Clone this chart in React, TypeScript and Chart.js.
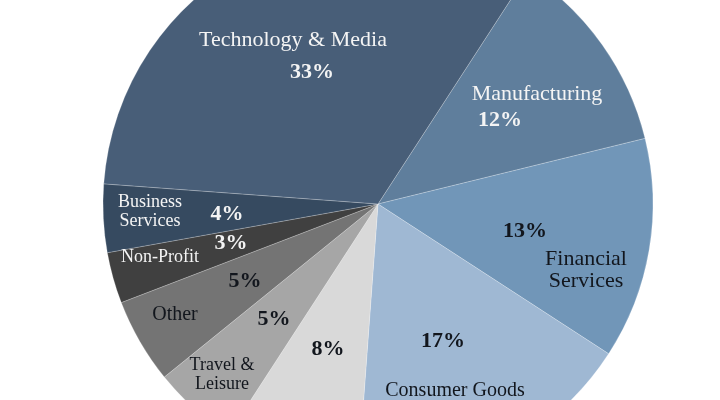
import { useEffect, useRef } from "react";
import { Chart, registerables } from "chart.js";

Chart.register(...registerables);

// ---- data ----
const categories = [
  "Manufacturing",
  "Financial Services",
  "Consumer Goods",
  "(label not visible)",
  "Travel & Leisure",
  "Other",
  "Non-Profit",
  "Business Services",
  "Technology & Media",
];
const shares = [12, 13, 17, 8, 5, 5, 3, 4, 33];
const nameLines = [
  ["Manufacturing"],
  ["Financial", "Services"],
  ["Consumer Goods"],
  [],
  ["Travel &", "Leisure"],
  ["Other"],
  ["Non-Profit"],
  ["Business", "Services"],
  ["Technology & Media"],
];

// ---- styles ----
const sliceColors = [
  "#5f7e9c",
  "#7196b8",
  "#9fb8d3",
  "#d9d9d9",
  "#a6a6a6",
  "#747474",
  "#404040",
  "#364a60",
  "#485e78",
];
const WHITE = "#f4f4f4";
const DARK = "#12161d";
// label layout: offsets from pie centre (baseline positions)
const labelLayout = [
  { name: [159, -104], gap: 0, nameSize: 22, pct: [122, -78], pctSize: 22, color: WHITE },
  { name: [208, 61], gap: 22, nameSize: 22, pct: [147, 33], pctSize: 22, color: DARK },
  { name: [77, 192], gap: 0, nameSize: 20, pct: [65, 143], pctSize: 22, color: DARK },
  { name: [0, 0], gap: 0, nameSize: 18, pct: [-50, 151], pctSize: 22, color: DARK },
  { name: [-156, 166], gap: 19, nameSize: 18, pct: [-104, 121], pctSize: 22, color: DARK },
  { name: [-203, 116], gap: 0, nameSize: 20, pct: [-133, 83], pctSize: 22, color: DARK },
  { name: [-218, 58], gap: 0, nameSize: 18, pct: [-147, 45], pctSize: 22, color: WHITE },
  { name: [-228, 3], gap: 19, nameSize: 18, pct: [-151, 16], pctSize: 22, color: WHITE },
  { name: [-85, -158], gap: 0, nameSize: 22, pct: [-66, -126], pctSize: 22, color: WHITE },
];
const FONT = '"Liberation Serif", "Times New Roman", serif';

const labelPlugin = {
  id: "sliceLabels",
  afterDatasetsDraw(chart: any) {
    const arc = chart.getDatasetMeta(0).data[0];
    if (!arc) return;
    const cx = arc.x;
    const cy = arc.y;
    const ctx = chart.ctx as CanvasRenderingContext2D;
    ctx.save();
    ctx.textAlign = "center";
    ctx.textBaseline = "alphabetic";
    labelLayout.forEach((L, i) => {
      ctx.fillStyle = L.color;
      ctx.font = `${L.nameSize}px ${FONT}`;
      nameLines[i].forEach((line, j) => {
        ctx.fillText(line, cx + L.name[0], cy + L.name[1] + j * L.gap);
      });
      ctx.font = `bold ${L.pctSize}px ${FONT}`;
      ctx.fillText(`${shares[i]}%`, cx + L.pct[0], cy + L.pct[1]);
    });
    ctx.restore();
  },
};

export default function App() {
  const canvasRef = useRef<HTMLCanvasElement | null>(null);

  useEffect(() => {
    if (!canvasRef.current) return;
    const chart = new Chart(canvasRef.current, {
      type: "pie",
      data: {
        labels: categories,
        datasets: [
          {
            data: shares,
            backgroundColor: sliceColors,
            borderColor: "rgba(255,255,255,0.22)",
            borderWidth: 1,
            rotation: 33,
            radius: 275,
            clip: false as any,
          } as any,
        ],
      },
      options: {
        responsive: true,
        maintainAspectRatio: false,
        animation: false,
        layout: { padding: { left: 36, right: 0, top: 8, bottom: 0 } },
        plugins: {
          legend: { display: false },
          tooltip: { enabled: false },
        },
      },
      plugins: [labelPlugin],
    });
    return () => chart.destroy();
  }, []);

  return (
    <div
      style={{
        position: "fixed",
        left: 0,
        top: 0,
        width: 720,
        height: 400,
        background: "#ffffff",
        overflow: "hidden",
      }}
    >
      <canvas ref={canvasRef} style={{ display: "block" }} />
    </div>
  );
}
